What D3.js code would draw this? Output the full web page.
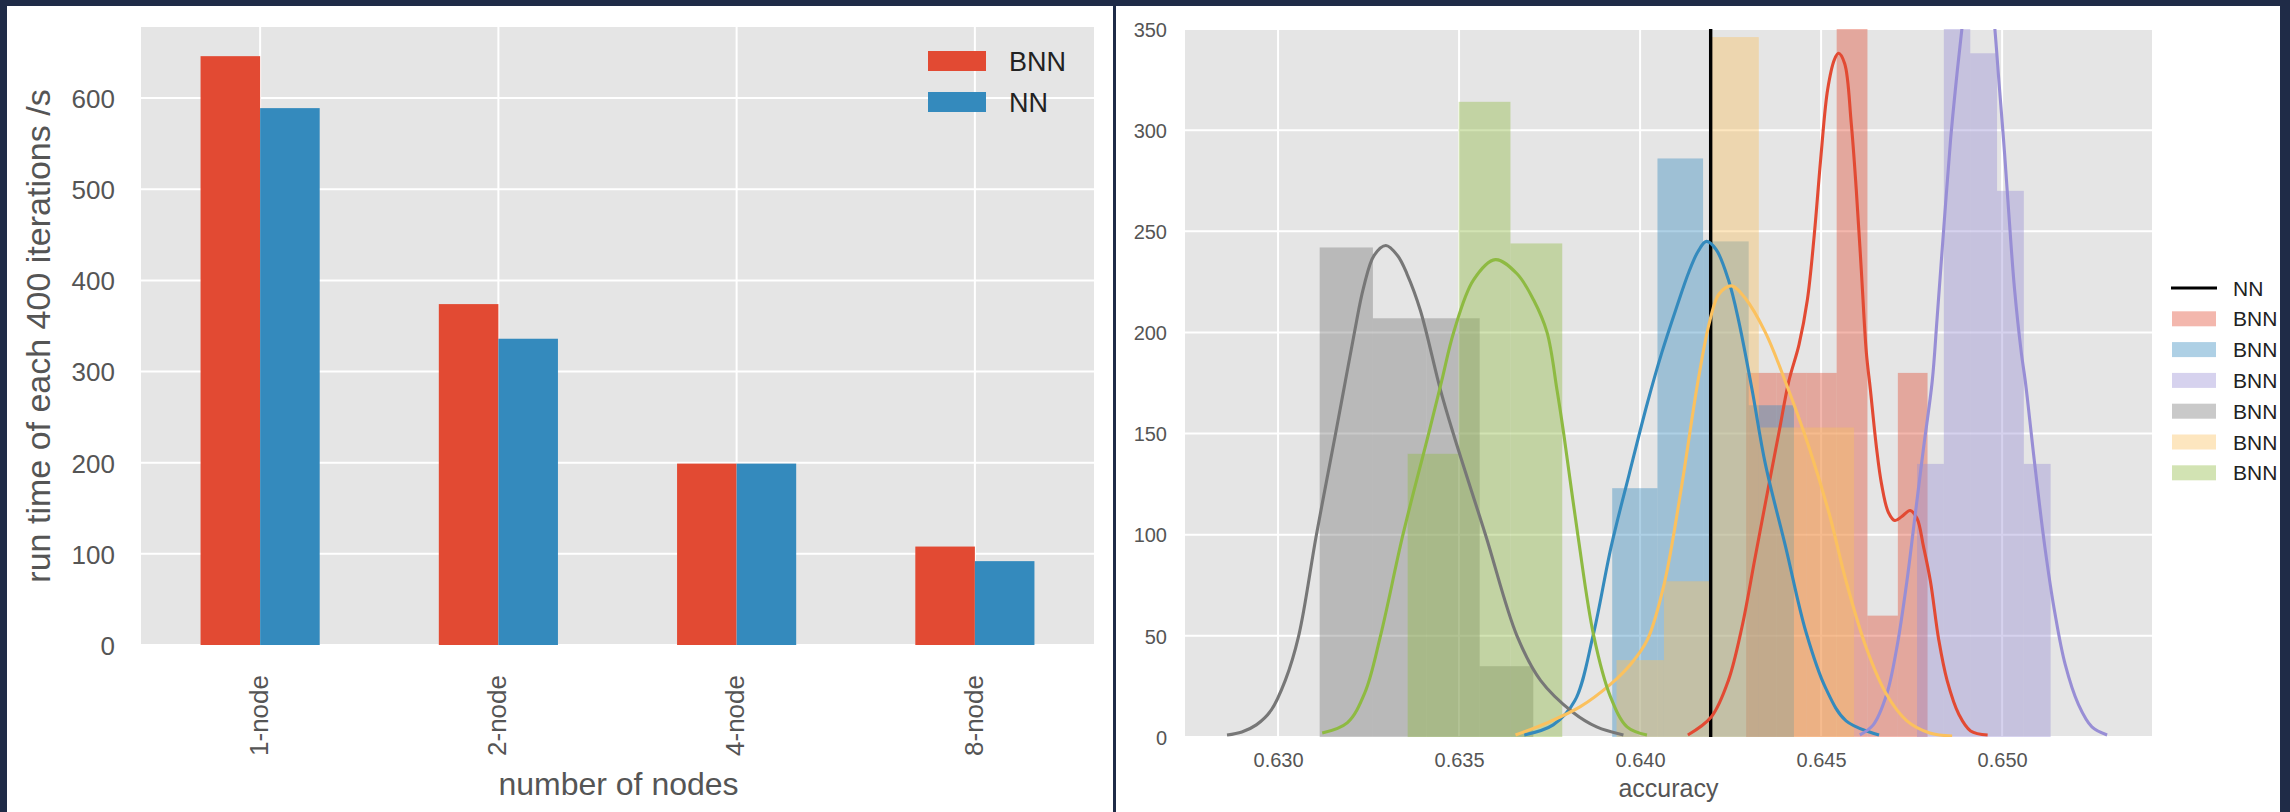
<!DOCTYPE html>
<html>
<head>
<meta charset="utf-8">
<script src="https://cdn.jsdelivr.net/npm/d3@7"></script>
<style>
  body { margin: 0; background: #ffffff; }
  text { font-family: "Liberation Sans", Arial, sans-serif; }
</style>
</head>
<body>
<script>
// ---------- data : left chart (run time per 400 iterations) ----------
var nodeLabels = ["1-node", "2-node", "4-node", "8-node"];
var bnnTimes = [646, 374, 199, 108];
var nnTimes = [589, 336, 199, 92];
var timeTicks = [0, 100, 200, 300, 400, 500, 600];

// ---------- data : right chart (accuracy distributions) ----------
var accTicks = [0.630, 0.635, 0.640, 0.645, 0.650];
var densTicks = [0, 50, 100, 150, 200, 250, 300, 350];
var nnAccuracy = 0.64195;

var redEdges = [0.64293, 0.64377, 0.64460, 0.64543, 0.64628, 0.64712, 0.64794];
var redHeights = [180, 180, 180, 357, 60, 180];
var redKde = [[0.64132, 1], [0.64197, 10], [0.64244, 28], [0.64281, 54], [0.64318, 89], [0.64355, 124],
  [0.64383, 150], [0.64411, 176], [0.64439, 194], [0.64462, 216], [0.64481, 248], [0.64500, 288],
  [0.64518, 320], [0.64537, 335], [0.64548, 338], [0.64565, 333], [0.64583, 304], [0.64597, 271],
  [0.64611, 231], [0.64625, 190], [0.64636, 172], [0.64653, 143], [0.64667, 125], [0.64686, 111],
  [0.64704, 107], [0.64723, 109], [0.64746, 112], [0.64765, 108], [0.64783, 94], [0.64802, 77],
  [0.64825, 48], [0.64848, 28], [0.64881, 11], [0.64913, 3], [0.64960, 1]];

var blueEdges = [0.63923, 0.64048, 0.64174, 0.64300, 0.64425];
var blueHeights = [123, 286, 245, 164];
var blueKde = [[0.6368, 1], [0.6376, 6], [0.6382, 18], [0.6387, 50], [0.6392, 94], [0.6397, 130],
  [0.6402, 165], [0.6406, 190], [0.6410, 212], [0.64135, 230], [0.6416, 240], [0.64183, 245],
  [0.6421, 241], [0.64244, 226], [0.64272, 206], [0.64309, 172], [0.64346, 135], [0.64402, 94],
  [0.64458, 52], [0.64513, 24], [0.64569, 8], [0.6466, 1]];

var purpleEdges = [0.64765, 0.64839, 0.64912, 0.64986, 0.65060, 0.65134];
var purpleHeights = [135, 474, 338, 270, 135];
var purpleKde = [[0.64607, 1], [0.64644, 6], [0.64681, 21], [0.64709, 44], [0.64737, 77], [0.64760, 110],
  [0.64783, 143], [0.64807, 176], [0.64820, 206], [0.64839, 252], [0.64858, 296], [0.64876, 329],
  [0.64895, 360], [0.64915, 388], [0.64935, 397], [0.64955, 390], [0.64974, 362], [0.64993, 320],
  [0.65007, 288], [0.65020, 255], [0.65034, 222], [0.65053, 190], [0.65064, 176], [0.65090, 135],
  [0.65118, 94], [0.65146, 61], [0.65174, 36], [0.65211, 16], [0.65248, 5], [0.65290, 1]];

var grayEdges = [0.63115, 0.63262, 0.63410, 0.63557, 0.63705];
var grayHeights = [242, 207, 207, 35];
var grayKde = [[0.62859, 1], [0.62900, 2.5], [0.62940, 6], [0.62980, 13], [0.63020, 28], [0.63057, 50],
  [0.63106, 100], [0.63159, 150], [0.63186, 176], [0.63211, 200], [0.63236, 222], [0.63265, 238],
  [0.63298, 243], [0.63330, 238], [0.63356, 229], [0.63393, 211], [0.63448, 172], [0.63484, 150],
  [0.63573, 100], [0.63660, 50], [0.63725, 28], [0.63816, 12], [0.63880, 5], [0.63954, 1]];

var yellowEdges = [0.63935, 0.64066, 0.64197, 0.64328, 0.64460, 0.64591];
var yellowHeights = [38, 77, 346, 153, 153];
var yellowKde = [[0.63656, 1], [0.63743, 7], [0.63835, 15], [0.63918, 26], [0.63974, 36], [0.64020, 48],
  [0.64067, 76], [0.64113, 122], [0.64160, 176], [0.64193, 206], [0.64218, 219], [0.64253, 223],
  [0.64290, 217], [0.64346, 200], [0.64407, 173], [0.64467, 143], [0.64523, 110], [0.64569, 77],
  [0.64625, 44], [0.64681, 21], [0.64737, 8], [0.64800, 2], [0.64862, 0.5]];

var greenEdges = [0.63358, 0.63499, 0.63642, 0.63785];
var greenHeights = [140, 314, 244];
var greenKde = [[0.63122, 2], [0.63191, 7], [0.63240, 22], [0.63283, 50], [0.63345, 100], [0.63416, 150],
  [0.63452, 176], [0.63485, 200], [0.63540, 226], [0.63600, 236], [0.63660, 229], [0.63706, 216],
  [0.63743, 200], [0.63771, 171], [0.63789, 150], [0.63828, 100], [0.63872, 50], [0.63918, 20],
  [0.63964, 5], [0.64019, 1]];

// ggplot colour cycle
var seriesColors = ["#E24A33", "#348ABD", "#988ED5", "#777777", "#FBC15E", "#8EBA42"];

var series = [
  { edges: redEdges, heights: redHeights, kde: redKde },
  { edges: blueEdges, heights: blueHeights, kde: blueKde },
  { edges: purpleEdges, heights: purpleHeights, kde: purpleKde },
  { edges: grayEdges, heights: grayHeights, kde: grayKde },
  { edges: yellowEdges, heights: yellowHeights, kde: yellowKde },
  { edges: greenEdges, heights: greenHeights, kde: greenKde }
];

var panelBg = "#E5E5E5",
  tickColor = "#555555",
  frameColor = "#1f2b47";

var svg = d3.select("body")
  .append("svg")
  .attr("width", 2290)
  .attr("height", 812);

svg.append("rect").attr("width", 2290).attr("height", 812).attr("fill", "#ffffff");

// ======================= left chart =======================
var L = { left: 141, right: 1094, top: 27, bottom: 645 };

var xBand = d3.scaleBand()
  .domain(nodeLabels)
  .range([L.left, L.right]);

var yTime = d3.scaleLinear()
  .domain([0, 678])
  .range([L.bottom, L.top]);

var left = svg.append("g");

left.append("rect")
  .attr("x", L.left).attr("y", L.top)
  .attr("width", L.right - L.left).attr("height", L.bottom - L.top)
  .attr("fill", panelBg);

// gridlines
left.append("g").selectAll("line")
  .data(timeTicks)
  .enter().append("line")
  .attr("x1", L.left).attr("x2", L.right)
  .attr("y1", function (d) { return yTime(d); })
  .attr("y2", function (d) { return yTime(d); })
  .attr("stroke", "#ffffff").attr("stroke-width", 2);

left.append("g").selectAll("line")
  .data(nodeLabels)
  .enter().append("line")
  .attr("x1", function (d) { return xBand(d) + xBand.bandwidth() / 2; })
  .attr("x2", function (d) { return xBand(d) + xBand.bandwidth() / 2; })
  .attr("y1", L.top).attr("y2", L.bottom)
  .attr("stroke", "#ffffff").attr("stroke-width", 2);

// bars
var barW = xBand.bandwidth() * 0.25;

left.append("g").selectAll("rect")
  .data(bnnTimes)
  .enter().append("rect")
  .attr("x", function (d, i) { return xBand(nodeLabels[i]) + xBand.bandwidth() / 2 - barW; })
  .attr("y", function (d) { return yTime(d); })
  .attr("width", barW)
  .attr("height", function (d) { return yTime(0) - yTime(d); })
  .attr("fill", seriesColors[0]);

left.append("g").selectAll("rect")
  .data(nnTimes)
  .enter().append("rect")
  .attr("x", function (d, i) { return xBand(nodeLabels[i]) + xBand.bandwidth() / 2; })
  .attr("y", function (d) { return yTime(d); })
  .attr("width", barW)
  .attr("height", function (d) { return yTime(0) - yTime(d); })
  .attr("fill", seriesColors[1]);

// axes
var leftYAxis = left.append("g")
  .attr("transform", "translate(" + L.left + ",0)")
  .call(d3.axisLeft(yTime).tickValues(timeTicks).tickSize(0).tickPadding(26));
leftYAxis.select(".domain").remove();
leftYAxis.selectAll("text")
  .attr("fill", tickColor)
  .style("font-size", "26px")
  .attr("dy", "0.36em");

left.append("g").selectAll("text")
  .data(nodeLabels)
  .enter().append("text")
  .attr("transform", function (d) {
    return "translate(" + (xBand(d) + xBand.bandwidth() / 2) + "," + 675 + ") rotate(-90)";
  })
  .attr("text-anchor", "end")
  .attr("dy", "0.3em")
  .attr("fill", tickColor)
  .style("font-size", "26px")
  .text(function (d) { return d; });

left.append("text")
  .attr("x", (L.left + L.right) / 2 + 1)
  .attr("y", 795)
  .attr("text-anchor", "middle")
  .attr("fill", tickColor)
  .style("font-size", "32px")
  .text("number of nodes");

left.append("text")
  .attr("transform", "translate(50," + (L.top + L.bottom) / 2 + ") rotate(-90)")
  .attr("text-anchor", "middle")
  .attr("fill", tickColor)
  .style("font-size", "34px")
  .text("run time of each 400 iterations /s");

// legend
var leftLegend = left.append("g").attr("transform", "translate(928,51)");
[{ name: "BNN", color: seriesColors[0] }, { name: "NN", color: seriesColors[1] }].forEach(function (d, i) {
  leftLegend.append("rect")
    .attr("x", 0).attr("y", i * 41)
    .attr("width", 58).attr("height", 20)
    .attr("fill", d.color);
  leftLegend.append("text")
    .attr("x", 81).attr("y", i * 41 + 20)
    .attr("fill", "#222222")
    .style("font-size", "27px")
    .text(d.name);
});

// ======================= right chart =======================
var R = { left: 1185, right: 2152, top: 29, bottom: 737 };

var xAcc = d3.scaleLinear()
  .domain([0.62743, 0.65414])
  .range([R.left, R.right]);

var yDens = d3.scaleLinear()
  .domain([0, 350])
  .range([R.bottom, R.top]);

var right = svg.append("g");

svg.append("clipPath").attr("id", "plotclip")
  .append("rect")
  .attr("x", R.left).attr("y", R.top)
  .attr("width", R.right - R.left).attr("height", R.bottom - R.top);

right.append("rect")
  .attr("x", R.left).attr("y", R.top)
  .attr("width", R.right - R.left).attr("height", R.bottom - R.top)
  .attr("fill", panelBg);

right.append("g").selectAll("line")
  .data(densTicks)
  .enter().append("line")
  .attr("x1", R.left).attr("x2", R.right)
  .attr("y1", function (d) { return yDens(d); })
  .attr("y2", function (d) { return yDens(d); })
  .attr("stroke", "#ffffff").attr("stroke-width", 2);

right.append("g").selectAll("line")
  .data(accTicks)
  .enter().append("line")
  .attr("x1", function (d) { return xAcc(d); })
  .attr("x2", function (d) { return xAcc(d); })
  .attr("y1", R.top).attr("y2", R.bottom)
  .attr("stroke", "#ffffff").attr("stroke-width", 2);

var marks = right.append("g").attr("clip-path", "url(#plotclip)");

var kdeLine = d3.line()
  .x(function (d) { return xAcc(d[0]); })
  .y(function (d) { return yDens(d[1]); })
  .curve(d3.curveCatmullRom.alpha(0.5));

// histograms (alpha 0.4) first, lines sit above all patches like in matplotlib
series.forEach(function (s, k) {
  marks.append("g").selectAll("rect")
    .data(s.heights)
    .enter().append("rect")
    .attr("x", function (d, i) { return xAcc(s.edges[i]); })
    .attr("y", function (d) { return yDens(d); })
    .attr("width", function (d, i) { return xAcc(s.edges[i + 1]) - xAcc(s.edges[i]); })
    .attr("height", function (d) { return yDens(0) - yDens(d); })
    .attr("fill", seriesColors[k])
    .attr("fill-opacity", 0.4);
});

// NN reference line
marks.append("line")
  .attr("x1", xAcc(nnAccuracy)).attr("x2", xAcc(nnAccuracy))
  .attr("y1", R.top).attr("y2", R.bottom)
  .attr("stroke", "#000000")
  .attr("stroke-width", 3.4);

series.forEach(function (s, k) {
  marks.append("path")
    .datum(s.kde)
    .attr("d", kdeLine)
    .attr("fill", "none")
    .attr("stroke", seriesColors[k])
    .attr("stroke-width", 3.1)
    .attr("stroke-linejoin", "round");
});

// axes
var rightYAxis = right.append("g")
  .attr("transform", "translate(" + R.left + ",0)")
  .call(d3.axisLeft(yDens).tickValues(densTicks).tickSize(0).tickPadding(18));
rightYAxis.select(".domain").remove();
rightYAxis.selectAll("text")
  .attr("fill", tickColor)
  .style("font-size", "20px")
  .attr("dy", "0.36em");

var rightXAxis = right.append("g")
  .attr("transform", "translate(0," + R.bottom + ")")
  .call(d3.axisBottom(xAcc).tickValues(accTicks).tickFormat(d3.format(".3f")).tickSize(0));
rightXAxis.select(".domain").remove();
rightXAxis.selectAll("text")
  .attr("fill", tickColor)
  .style("font-size", "20px")
  .attr("y", 23)
  .attr("dy", "0.36em");

right.append("text")
  .attr("x", (R.left + R.right) / 2)
  .attr("y", 797)
  .attr("text-anchor", "middle")
  .attr("fill", tickColor)
  .style("font-size", "25px")
  .text("accuracy");

// legend outside the axes
var rightLegend = right.append("g").attr("transform", "translate(2171,288)");
rightLegend.append("line")
  .attr("x1", 0).attr("x2", 46)
  .attr("y1", 0).attr("y2", 0)
  .attr("stroke", "#000000").attr("stroke-width", 3.2);
rightLegend.append("text")
  .attr("x", 62).attr("y", 7.5)
  .attr("fill", "#222222")
  .style("font-size", "21px")
  .text("NN");

seriesColors.forEach(function (c, i) {
  var cy = (i + 1) * 30.8;
  rightLegend.append("rect")
    .attr("x", 1).attr("y", cy - 7.5)
    .attr("width", 44).attr("height", 15)
    .attr("fill", c).attr("fill-opacity", 0.4);
  rightLegend.append("text")
    .attr("x", 62).attr("y", cy + 7.5)
    .attr("fill", "#222222")
    .style("font-size", "21px")
    .text("BNN");
});

// ======================= dark frame =======================
var frame = svg.append("g").attr("fill", frameColor);
frame.append("rect").attr("x", 0).attr("y", 0).attr("width", 2290).attr("height", 6);
frame.append("rect").attr("x", 0).attr("y", 0).attr("width", 7).attr("height", 812);
frame.append("rect").attr("x", 1113).attr("y", 0).attr("width", 3).attr("height", 812);
frame.append("rect").attr("x", 2280).attr("y", 0).attr("width", 10).attr("height", 812);
</script>
</body>
</html>
